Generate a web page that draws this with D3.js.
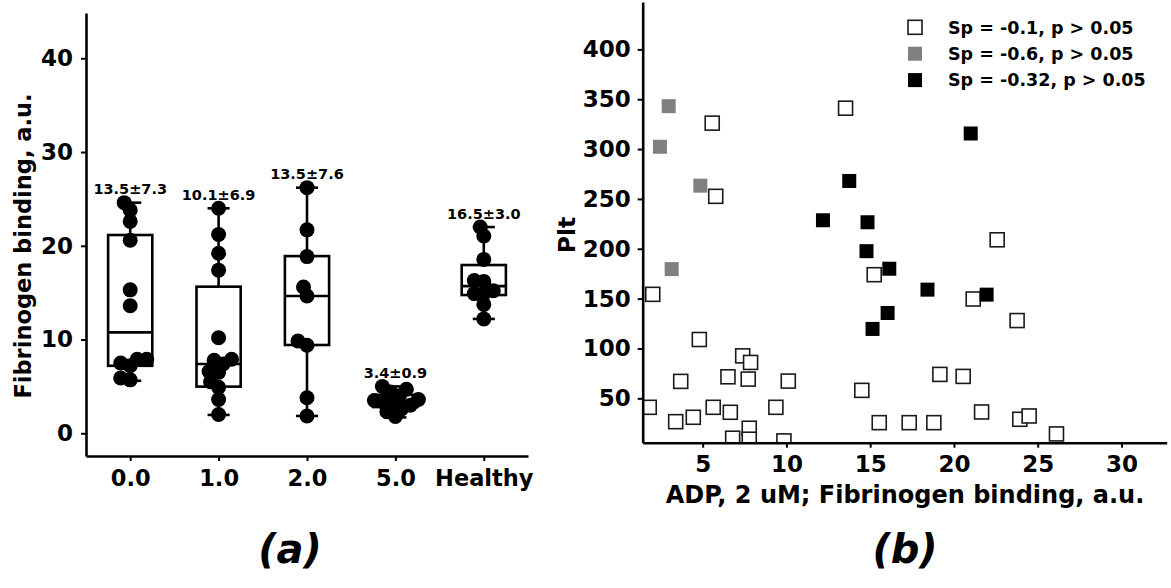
<!DOCTYPE html>
<html>
<head>
<meta charset="utf-8">
<script src="https://cdn.jsdelivr.net/npm/d3@7"></script>
<style>
  body { margin: 0; background: #fff; }
  svg text { font-family: "DejaVu Sans", sans-serif; font-weight: bold; fill: #000; }
</style>
</head>
<body>
<div id="chart"></div>
<script>
// panel (a): fibrinogen binding by group
var groups = ["0.0", "1.0", "2.0", "5.0", "Healthy"];
var points00 = [24.6, 23.8, 22.6, 20.6, 15.3, 13.6, 7.9, 7.9, 7.5, 7.2, 5.9, 5.7];
var points10 = [24.0, 21.2, 19.2, 17.4, 10.2, 7.9, 7.8, 7.4, 6.6, 6.5, 5.5, 4.9, 3.6, 2.0];
var points20 = [26.2, 21.7, 18.85, 15.6, 14.65, 9.85, 9.4, 3.8, 1.85];
var points50 = [5.0, 4.7, 4.4, 4.0, 3.6, 3.5, 3.3, 3.2, 3.0, 2.6, 2.3, 1.8];
var pointsHealthy = [22.0, 21.05, 18.55, 16.3, 16.2, 15.2, 14.9, 14.9, 13.75, 12.2];
var boxQ1 = [7.2, 4.98, 9.42, 2.8, 14.75];
var boxMedian = [10.77, 7.4, 14.65, 3.3, 15.7];
var boxQ3 = [21.15, 15.64, 18.9, 4.1, 17.95];
var whiskerLow = [5.6, 1.96, 1.85, 1.7, 12.2];
var whiskerHigh = [24.6, 24.0, 26.2, 5.0, 22.0];
var meanLabels = ["13.5±7.3", "10.1±6.9", "13.5±7.6", "3.4±0.9", "16.5±3.0"];
var leftTicks = [0, 10, 20, 30, 40];

// panel (b): Plt vs fibrinogen binding
var openX = [5.57, 5.78, 13.53, 2.02, 4.8, 3.69, 1.81, 3.39, 4.44, 5.63, 6.51, 6.65, 7.39, 7.86, 7.72, 6.79, 7.78, 7.78,
             9.37, 10.11, 9.85, 14.5, 22.58, 15.24, 21.15, 23.77, 19.16, 20.55, 21.65, 15.54, 17.33, 18.8, 23.93, 24.49, 26.12];
var openY = [326, 252.6, 341, 154.3, 109, 67, 41, 26.6, 31, 41, 71.6, 36, 92.6, 86, 69.3, 10, 20, 9,
             41, 67.3, 7.3, 58, 209, 174, 149.6, 128, 74, 72, 36.3, 25.6, 25.6, 25.6, 29, 32.3, 14.3];
var grayX = [2.97, 2.45, 4.86, 3.15];
var grayY = [343, 302.3, 263.3, 179.6];
var blackX = [21.0, 13.75, 12.18, 14.84, 14.78, 16.14, 18.42, 21.95, 16.04, 15.14];
var blackY = [315.6, 268, 228.6, 226.6, 197.6, 180, 159, 154, 135.6, 119.6];
var legendLabels = ["Sp = -0.1, p > 0.05", "Sp = -0.6, p > 0.05", "Sp = -0.32, p > 0.05"];
var rightXTicks = [5, 10, 15, 20, 25, 30];
var rightYTicks = [50, 100, 150, 200, 250, 300, 350, 400];

var width = 1171, height = 588;
var svg = d3.select("#chart").append("svg")
    .attr("width", width)
    .attr("height", height);

function styleAxis(g) {
  g.select(".domain").attr("stroke", "#000").attr("stroke-width", 2.6);
  g.selectAll(".tick line").attr("stroke", "#000").attr("stroke-width", 2);
  g.selectAll(".tick text").attr("font-family", "DejaVu Sans").attr("font-weight", "bold");
}

// ---------- panel (a) ----------
var xA = d3.scalePoint().domain(groups).range([86, 528]).padding(0.5);
var yA = d3.scaleLinear().domain([-2.42, 44.83]).range([456, 13]);
var boxW = xA.step() * 0.5;

var boxes = groups.map(function(g, i) {
  return { g: g, q1: boxQ1[i], med: boxMedian[i], q3: boxQ3[i], lo: whiskerLow[i], hi: whiskerHigh[i], label: meanLabels[i] };
});

var boxG = svg.append("g").attr("stroke", "#000").attr("stroke-width", 2.6).attr("fill", "none");
boxes.forEach(function(b) {
  var cx = xA(b.g);
  boxG.append("line").attr("x1", cx).attr("x2", cx).attr("y1", yA(b.q3)).attr("y2", yA(b.hi));
  boxG.append("line").attr("x1", cx).attr("x2", cx).attr("y1", yA(b.q1)).attr("y2", yA(b.lo));
  boxG.append("line").attr("x1", cx - boxW / 4).attr("x2", cx + boxW / 4).attr("y1", yA(b.hi)).attr("y2", yA(b.hi));
  boxG.append("line").attr("x1", cx - boxW / 4).attr("x2", cx + boxW / 4).attr("y1", yA(b.lo)).attr("y2", yA(b.lo));
  boxG.append("rect").attr("x", cx - boxW / 2).attr("y", yA(b.q3))
      .attr("width", boxW).attr("height", yA(b.q1) - yA(b.q3));
  boxG.append("line").attr("x1", cx - boxW / 2).attr("x2", cx + boxW / 2).attr("y1", yA(b.med)).attr("y2", yA(b.med));
});

// simple swarm layout: place each point at the offset nearest the centre that does not collide
function swarm(values, cx, minDist) {
  var placed = [];
  values.slice().sort(function(a, b) { return a - b; }).forEach(function(v) {
    var py = yA(v), best = null;
    for (var k = 0; k < 200 && best === null; k++) {
      var cands = k === 0 ? [0] : [-k * 0.5, k * 0.5];
      for (var c = 0; c < cands.length; c++) {
        var px = cx + cands[c];
        var ok = placed.every(function(p) {
          return Math.hypot(p.x - px, p.y - py) >= minDist;
        });
        if (ok) { best = px; break; }
      }
    }
    placed.push({ x: best, y: py });
  });
  return placed;
}

var allPoints = [points00, points10, points20, points50, pointsHealthy];
allPoints.forEach(function(vals, i) {
  svg.append("g").selectAll("circle")
     .data(swarm(vals, xA(groups[i]), 9.5))
     .enter()
     .append("circle")
     .attr("cx", function(d) { return d.x; })
     .attr("cy", function(d) { return d.y; })
     .attr("r", 7.5)
     .attr("fill", "#000");
});

svg.append("g").selectAll("text")
   .data(boxes)
   .enter()
   .append("text")
   .attr("x", function(d) { return xA(d.g); })
   .attr("y", function(d) { return yA(d.hi) - 8.5; })
   .attr("text-anchor", "middle")
   .attr("font-size", 14.5)
   .text(function(d) { return d.label; });

var axAy = svg.append("g").attr("transform", "translate(86,0)")
    .call(d3.axisLeft(yA).tickValues(leftTicks).tickFormat(d3.format("d")).tickSize(5).tickSizeOuter(0).tickPadding(8));
axAy.selectAll(".tick text").attr("font-size", 23);
styleAxis(axAy);

var axAx = svg.append("g").attr("transform", "translate(0,456)")
    .call(d3.axisBottom(xA).tickSize(5).tickSizeOuter(0).tickPadding(9));
axAx.selectAll(".tick text").attr("font-size", 22.5);
styleAxis(axAx);

svg.append("text")
   .attr("transform", "translate(31,246) rotate(-90)")
   .attr("text-anchor", "middle")
   .attr("font-size", 22.5)
   .text("Fibrinogen binding, a.u.");

svg.append("text")
   .attr("x", 290).attr("y", 563)
   .attr("text-anchor", "middle")
   .attr("font-size", 40)
   .attr("font-style", "italic")
   .text("(a)");

// ---------- panel (b) ----------
var xB = d3.scaleLinear().domain([1.42, 32.7]).range([642.7, 1166.7]);
var yB = d3.scaleLinear().domain([5.5, 447.5]).range([442.7, 2]);
var sq = 14;

svg.append("clipPath").attr("id", "clipB")
   .append("rect").attr("x", 642.7).attr("y", 2).attr("width", 524).attr("height", 440.7);

var plotB = svg.append("g").attr("clip-path", "url(#clipB)");

function squares(xs, ys, fill, stroke, sw) {
  plotB.append("g").selectAll("rect")
     .data(xs.map(function(x, i) { return [x, ys[i]]; }))
     .enter()
     .append("rect")
     .attr("x", function(d) { return xB(d[0]) - sq / 2; })
     .attr("y", function(d) { return yB(d[1]) - sq / 2; })
     .attr("width", sq)
     .attr("height", sq)
     .attr("fill", fill)
     .attr("stroke", stroke)
     .attr("stroke-width", sw);
}
squares(openX, openY, "#fff", "#1a1a1a", 1.6);
squares(grayX, grayY, "#808080", "none", 0);
squares(blackX, blackY, "#000", "none", 0);

var axBy = svg.append("g").attr("transform", "translate(642.7,0)")
    .call(d3.axisLeft(yB).tickValues(rightYTicks).tickSize(5).tickSizeOuter(0).tickPadding(7));
axBy.selectAll(".tick text").attr("font-size", 23);
styleAxis(axBy);

var axBx = svg.append("g").attr("transform", "translate(0,442.7)")
    .call(d3.axisBottom(xB).tickValues(rightXTicks).tickSize(5).tickSizeOuter(0).tickPadding(8));
axBx.selectAll(".tick text").attr("font-size", 23);
styleAxis(axBx);

svg.append("text")
   .attr("transform", "translate(575,235) rotate(-90)")
   .attr("text-anchor", "middle")
   .attr("font-size", 23.5)
   .text("Plt");

svg.append("text")
   .attr("x", 905).attr("y", 503)
   .attr("text-anchor", "middle")
   .attr("font-size", 24)
   .text("ADP, 2 uM; Fibrinogen binding, a.u.");

var legendStyles = [["#fff", "#1a1a1a", 1.6], ["#808080", "none", 0], ["#000", "none", 0]];
var legend = svg.append("g").selectAll("g")
   .data(legendLabels)
   .enter()
   .append("g")
   .attr("transform", function(d, i) { return "translate(915," + (27.3 + i * 26.4) + ")"; });
legend.append("rect")
   .attr("x", -7).attr("y", -7).attr("width", 14).attr("height", 14)
   .attr("fill", function(d, i) { return legendStyles[i][0]; })
   .attr("stroke", function(d, i) { return legendStyles[i][1]; })
   .attr("stroke-width", function(d, i) { return legendStyles[i][2]; });
legend.append("text")
   .attr("x", 33).attr("y", 0)
   .attr("dy", "0.36em")
   .attr("font-size", 17.5)
   .text(function(d) { return d; });

svg.append("text")
   .attr("x", 905).attr("y", 563)
   .attr("text-anchor", "middle")
   .attr("font-size", 40)
   .attr("font-style", "italic")
   .text("(b)");
</script>
</body>
</html>
